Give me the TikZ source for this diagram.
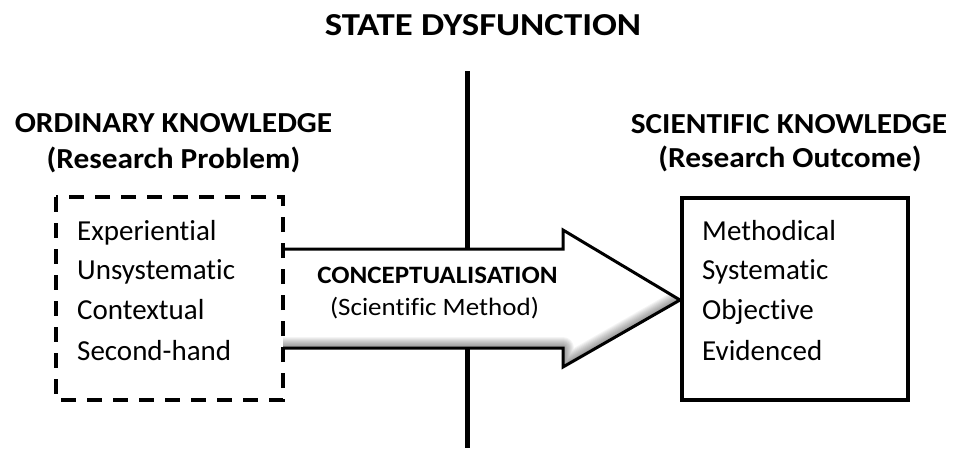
\documentclass[tikz,border=0pt]{standalone}
\usepackage{fontspec}
\setmainfont{Carlito}[Ligatures=NoCommon]
% horizontally widened text, keeping the baseline
\newcommand\hwide[2]{\scalebox{#1}[1]{#2}}
\begin{document}
\begin{tikzpicture}[x=1pt,y=-1pt,
  title/.style={font=\fontsize{32}{34}\selectfont\bfseries, anchor=base, inner sep=0pt},
  heading/.style={font=\fontsize{29}{31}\selectfont\bfseries, anchor=base, inner sep=0pt},
  item/.style={font=\fontsize{29}{31}\selectfont, anchor=base west, inner sep=0pt},
  arrowlabel/.style={font=\fontsize{25}{27}\selectfont\bfseries, anchor=base, inner sep=0pt},
  arrowsub/.style={font=\fontsize{25}{27}\selectfont, anchor=base, inner sep=0pt},
  divider/.style={line width=5pt},
  dashbox/.style={draw, line width=4pt, dash pattern=on 15pt off 11pt},
  solidbox/.style={draw, line width=4pt},
  bigarrow/.style={line width=3pt, line join=miter}
]
\useasboundingbox (0,0) rectangle (963,448);

% central divider
\coordinate (divtop) at (467,71);
\coordinate (divbot) at (467,448);
\draw[divider] (divtop) -- (divbot);

% title
\node[title] (title) at (483,35) {\hwide{1.15}{STATE DYSFUNCTION}};

% column headings
\node[heading] (ordhead) at (173.5,132) {\hwide{1.08}{ORDINARY KNOWLEDGE}};
\node[heading] (ordsub) at (173.5,168) {\hwide{1.08}{(Research Problem)}};
\node[heading] (scihead) at (789,133) {\hwide{1.08}{SCIENTIFIC KNOWLEDGE}};
\node[heading] (scisub) at (790,167) {\hwide{1.08}{(Research Outcome)}};

% box corners
\coordinate (ordNW) at (56,197);
\coordinate (ordSE) at (283,400);
\coordinate (sciNW) at (682,198);
\coordinate (sciSE) at (908,400);

% block arrow between the boxes
\coordinate (a1) at (283,249);
\coordinate (a2) at (563,249);
\coordinate (a3) at (563,230);
\coordinate (tip) at (680,300);
\coordinate (a5) at (563,367);
\coordinate (a6) at (563,348);
\coordinate (a7) at (283,348);
\fill[white] (a1) -- (a2) -- (a3) -- (tip) -- (a5) -- (a6) -- (a7) -- cycle;
\begin{scope}
  \clip (a1) -- (a2) -- (a3) -- (tip) -- (a5) -- (a6) -- (a7) -- cycle;
  \foreach \w in {2,4,...,22}
    \draw[black, opacity=0.045, line width=\w pt, line join=round]
      (a7) -- (a6) -- (a5) -- (tip);
\end{scope}
\draw[bigarrow] (a1) -- (a2) -- (a3) -- (tip) -- (a5) -- (a6) -- (a7);

\node[arrowlabel] (concept) at (437.5,283) {\hwide{1.08}{CONCEPTUALISATION}};
\node[arrowsub] (method) at (434.5,315) {\hwide{1.08}{(Scientific Method)}};

% knowledge boxes
\draw[dashbox] (ordNW) rectangle (ordSE);
\draw[solidbox] (sciNW) rectangle (sciSE);

% ordinary knowledge traits
\node[item] (o1) at (77,240) {Experiential};
\node[item] (o2) at (77,279) {Unsystematic};
\node[item] (o3) at (77,319) {Contextual};
\node[item] (o4) at (77,360) {Second-hand};

% scientific knowledge traits
\node[item] (s1) at (702,240) {Methodical};
\node[item] (s2) at (702,279) {Systematic};
\node[item] (s3) at (702,319) {Objective};
\node[item] (s4) at (702,360) {Evidenced};
\end{tikzpicture}
\end{document}
